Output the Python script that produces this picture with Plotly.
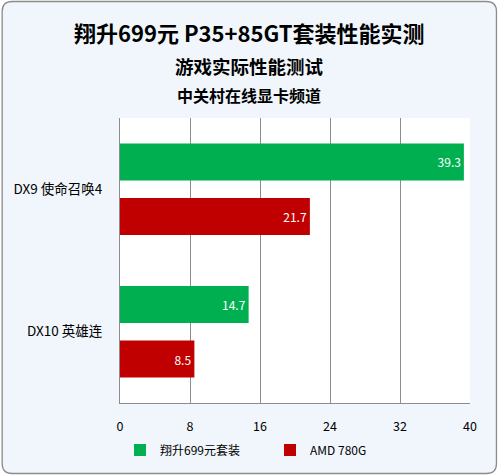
import plotly.graph_objects as go

categories = ["DX9 使命召唤4", "DX10 英雄连"]
series_names = ["翔升699元套装", "AMD 780G"]
xiangsheng = [39.3, 14.7]
amd780g = [21.7, 8.5]
tick_vals = [0, 8, 16, 24, 32, 40]
title1 = "翔升699元 P35+85GT套装性能实测"
title2 = "游戏实际性能测试"
title3 = "中关村在线显卡频道"

W, H = 498, 475
L, R, T, B = 119.5, 28, 118, 72
PW, PH = W - L - R, H - T - B

def px(x):
    return (x - L) / PW

def py(y):
    return (H - B - y) / PH

FONT = "Noto Sans CJK SC, Noto Sans, sans-serif"

fig = go.Figure()
colors = ["#00B050", "#C00000"]
for name, vals, c in zip(series_names, [xiangsheng, amd780g], colors):
    fig.add_trace(go.Bar(
        y=categories, x=vals, name=name, orientation="h",
        marker=dict(color=c, line=dict(width=0)),
        text=[f"{v:.1f}" for v in vals], textposition="inside",
        insidetextanchor="end",
        textfont=dict(color="white", size=12, family=FONT),
    ))

# rounded background border
x0, x1, y0, y1, r = 1.5, 496.5, 1.5, 473.5, 10
def P(x, y):
    return f"{px(x)},{py(y)}"
path = (f"M {P(x0+r, y0)} L {P(x1-r, y0)} Q {P(x1, y0)} {P(x1, y0+r)} "
        f"L {P(x1, y1-r)} Q {P(x1, y1)} {P(x1-r, y1)} "
        f"L {P(x0+r, y1)} Q {P(x0, y1)} {P(x0, y1-r)} "
        f"L {P(x0, y0+r)} Q {P(x0, y0)} {P(x0+r, y0)} Z")
fig.add_shape(type="path", path=path, xref="paper", yref="paper",
              fillcolor="#F0F6FB", line=dict(color="#8C8C8C", width=1.3), layer="below")
fig.add_shape(type="rect", xref="paper", yref="paper", x0=0, x1=1, y0=0, y1=1,
              fillcolor="white", line=dict(width=0), layer="below")

for txt, y, s in [(title1, 32, 22), (title2, 66, 18.5), (title3, 95, 16)]:
    fig.add_annotation(text=f"<b>{txt}</b>", xref="paper", yref="paper",
                       x=px(249), y=py(y), showarrow=False, xanchor="center", yanchor="middle",
                       font=dict(size=s, color="black", family=FONT))

fig.update_layout(
    width=W, height=H,
    margin=dict(l=L, r=R, t=T, b=B, pad=0, autoexpand=False),
    paper_bgcolor="white", plot_bgcolor="rgba(0,0,0,0)",
    barmode="group", bargap=0.235, bargroupgap=0.32,
    font=dict(family=FONT, size=12, color="black"),
    showlegend=True,
    legend=dict(orientation="h", xref="container", yref="container",
                x=120 / W, y=1 - 450 / H, xanchor="left", yanchor="middle",
                font=dict(size=12, family=FONT), bgcolor="rgba(0,0,0,0)",
                entrywidth=105, entrywidthmode="pixels", tracegroupgap=0),
    xaxis=dict(range=[0, 40], tickvals=tick_vals, showgrid=True, gridcolor="#8C8C8C",
               gridwidth=1, zeroline=False, showline=True, linecolor="#8C8C8C",
               ticks="", ticklabelstandoff=12, tickfont=dict(size=12.5), fixedrange=True,
               mirror=False),
    yaxis=dict(autorange="reversed", showline=True, linecolor="#8C8C8C", ticks="",
               ticklabelstandoff=14, tickfont=dict(size=13.5), showgrid=False),
)

fig.write_html("out.html")
